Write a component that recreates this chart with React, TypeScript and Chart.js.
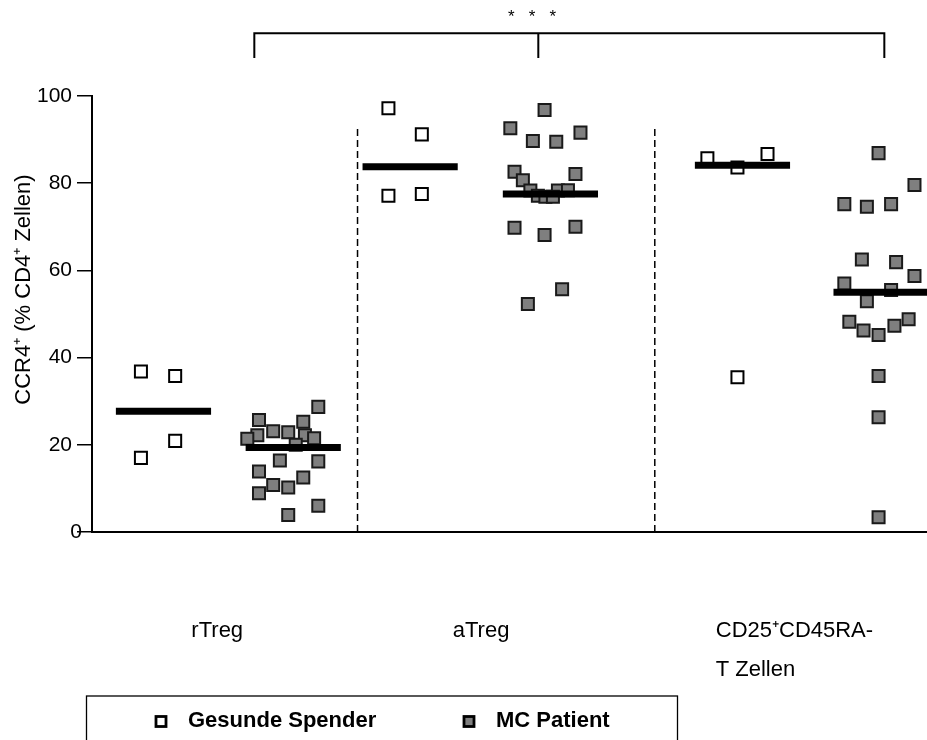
import React, { useEffect, useRef } from "react";
import { Chart, registerables } from "chart.js";

Chart.register(...registerables);

const FONT = "'Liberation Sans', Arial, Helvetica, sans-serif";

// ---- category labels (x axis) ----
const categoryLabels: (string | string[])[] = ["rTreg", "aTreg", ["CD25\u207ACD45RA-", "T Zellen"]];
const categoryLabelPos = [1.19, 4.32, 7.47];

// ---- group positions on x axis ----
const healthyCenters = [0.856, 3.81, 7.79];
const patientCenters = [2.41, 5.49, 9.45];

// ---- Gesunde Spender (healthy donors) ----
const healthyRTreg = [36.8, 35.8, 20.9, 17.0];
const healthyRTregJitter = [-0.27, 0.14, 0.14, -0.27];
const healthyATreg = [97.2, 91.2, 77.5, 77.1];
const healthyATregJitter = [-0.26, 0.14, 0.14, -0.26];
const healthyCD25 = [85.7, 86.7, 83.6, 35.5];
const healthyCD25Jitter = [-0.42, 0.3, -0.06, -0.06];

// ---- MC Patient ----
const patientRTreg = [28.7, 25.7, 25.3, 23.1, 22.9, 22.2, 22.2, 21.4, 21.5, 20.0, 16.4, 16.2, 13.9, 12.5, 10.8, 10.2, 8.9, 6.0, 3.9];
const patientRTregJitter = [0.3, -0.41, 0.12, -0.24, -0.06, 0.14, -0.43, -0.55, 0.25, 0.03, -0.16, 0.3, -0.41, 0.12, -0.24, -0.06, -0.41, 0.3, -0.06];
const patientATreg = [96.8, 92.6, 91.6, 89.7, 89.5, 82.6, 82.1, 80.7, 78.3, 78.3, 78.4, 77.1, 76.9, 76.9, 69.8, 70.0, 68.1, 55.7, 52.3];
const patientATregJitter = [-0.07, -0.48, 0.36, -0.21, 0.07, -0.43, 0.3, -0.33, -0.24, 0.09, 0.21, -0.15, -0.06, 0.03, -0.43, 0.3, -0.07, 0.14, -0.27];
const patientCD25 = [86.9, 79.6, 75.2, 74.6, 75.2, 62.5, 61.9, 58.7, 57.0, 55.5, 52.9, 48.2, 46.2, 45.2, 47.3, 48.8, 35.8, 26.3, 3.4];
const patientCD25Jitter = [-0.03, 0.4, -0.44, -0.17, 0.12, -0.23, 0.18, 0.4, -0.44, 0.12, -0.17, -0.38, -0.21, -0.03, 0.16, 0.33, -0.03, -0.03, -0.03];

// ---- group means (horizontal bars) ----
const healthyMeans = [27.7, 83.8, 84.1];
const patientMeans = [19.4, 77.5, 55.0];
const meanHalfWidth = 0.57;

// ---- separators ----
const separatorX = [3.18, 6.74];
const separatorTop = 92.7;

// ---- significance bracket ----
const bracketX = [1.944, 5.345, 9.489];
const bracketTop = 114.4;
const bracketTickEnd = 108.7;
const significanceLabel = "*   *   *";
const significanceX = 5.27;
const significanceY = 118.0;

// ---- y axis ----
const yMin = 0;
const yMax = 100;
const yStep = 20;
const yTitle = "        CCR4\u207A (% CD4\u207A Zellen)";

// ---- legend ----
const legendNames = ["Gesunde Spender", "MC Patient"];
const legendFills = ["#ffffff", "#7f7f7f"];

function pts(values: number[], jitter: number[], center: number) {
  return values.map((v, i) => ({ x: center + jitter[i], y: v }));
}

const legendPlugin = {
  id: "boxLegend",
  afterDraw(chart: any) {
    const ctx = chart.ctx as CanvasRenderingContext2D;
    const xs = chart.scales.x;
    const ys = chart.scales.y;
    ctx.save();
    // zero label sits over the tick, as in the original
    ctx.fillStyle = "#000";
    ctx.font = `21px ${FONT}`;
    ctx.textAlign = "right";
    ctx.textBaseline = "middle";
    ctx.fillText(String(yMin), xs.left - 10, ys.getPixelForValue(yMin));

    // significance stars
    ctx.font = `17px ${FONT}`;
    ctx.textAlign = "center";
    ctx.fillText(significanceLabel, xs.getPixelForValue(significanceX), ys.getPixelForValue(significanceY));

    // legend box
    ctx.strokeStyle = "#000";
    ctx.lineWidth = 1.3;
    ctx.strokeRect(86.5, 696, 591, 60);
    const itemX = [156, 464];
    ctx.font = `bold 22px ${FONT}`;
    ctx.textAlign = "left";
    ctx.textBaseline = "middle";
    legendNames.forEach((name, i) => {
      ctx.fillStyle = legendFills[i];
      ctx.fillRect(itemX[i], 716.5, 10, 10);
      ctx.lineWidth = 2.8;
      ctx.strokeStyle = "#000";
      ctx.strokeRect(itemX[i], 716.5, 10, 10);
      ctx.fillStyle = "#000";
      ctx.fillText(name, itemX[i] + 32, 721);
    });
    ctx.restore();
  },
};

export default function App() {
  const ref = useRef<HTMLCanvasElement | null>(null);

  useEffect(() => {
    if (!ref.current) return;
    const lineBase = {
      showLine: true,
      pointRadius: 0,
      borderColor: "#000",
      clip: false as any,
    };
    const meanSets: any[] = [];
    const addMean = (center: number, m: number) =>
      meanSets.push({
        ...lineBase,
        label: "mean",
        data: [
          { x: center - meanHalfWidth, y: m },
          { x: center + meanHalfWidth, y: m },
        ],
        borderWidth: 7,
        borderCapStyle: "butt",
        order: 0,
      });
    healthyMeans.forEach((m, i) => addMean(healthyCenters[i], m));
    patientMeans.forEach((m, i) => addMean(patientCenters[i], m));

    const sepSets = separatorX.map((x) => ({
      ...lineBase,
      label: "sep",
      data: [
        { x, y: yMin },
        { x, y: separatorTop },
      ],
      borderWidth: 1.5,
      borderDash: [7, 4],
      order: 5,
    }));
    const bracketSets = [
      {
        ...lineBase,
        label: "bracket",
        data: [
          { x: bracketX[0], y: bracketTickEnd },
          { x: bracketX[0], y: bracketTop },
          { x: bracketX[2], y: bracketTop },
          { x: bracketX[2], y: bracketTickEnd },
        ],
        borderWidth: 2,
        borderJoinStyle: "miter",
        order: 5,
      },
      {
        ...lineBase,
        label: "bracket",
        data: [
          { x: bracketX[1], y: bracketTop },
          { x: bracketX[1], y: bracketTickEnd },
        ],
        borderWidth: 2,
        order: 5,
      },
    ];

    const healthyData = [
      ...pts(healthyRTreg, healthyRTregJitter, healthyCenters[0]),
      ...pts(healthyATreg, healthyATregJitter, healthyCenters[1]),
      ...pts(healthyCD25, healthyCD25Jitter, healthyCenters[2]),
    ];
    const patientData = [
      ...pts(patientRTreg, patientRTregJitter, patientCenters[0]),
      ...pts(patientATreg, patientATregJitter, patientCenters[1]),
      ...pts(patientCD25, patientCD25Jitter, patientCenters[2]),
    ];

    const chart = new Chart(ref.current, {
      type: "scatter",
      data: {
        datasets: [
          ...meanSets,
          {
            label: legendNames[0],
            data: healthyData,
            pointStyle: "rect",
            pointRadius: 8.5,
            backgroundColor: legendFills[0],
            borderColor: "#000",
            borderWidth: 2,
            clip: false as any,
            order: 2,
          },
          {
            label: legendNames[1],
            data: patientData,
            pointStyle: "rect",
            pointRadius: 8.5,
            backgroundColor: legendFills[1],
            borderColor: "#1a1a1a",
            borderWidth: 2,
            clip: false as any,
            order: 1,
          },
          ...sepSets,
          ...bracketSets,
        ],
      },
      options: {
        responsive: false,
        animation: false,
        events: [],
        layout: { autoPadding: false, padding: { top: 96, left: 0, right: 0, bottom: 0 } },
        plugins: { legend: { display: false }, tooltip: { enabled: false } },
        scales: {
          x: {
            type: "linear",
            position: "bottom",
            min: 0,
            max: 10,
            grid: { display: false, drawTicks: false },
            border: { display: true, color: "#000", width: 2 },
            afterBuildTicks: (scale: any) => {
              scale.ticks = categoryLabelPos.map((v) => ({ value: v }));
            },
            afterFit: (scale: any) => {
              scale.height = 208;
              scale.paddingLeft = 0;
              scale.paddingRight = 0;
            },
            ticks: {
              autoSkip: false,
              maxRotation: 0,
              minRotation: 0,
              align: "start",
              padding: 80,
              color: "#000",
              font: { family: FONT, size: 22, lineHeight: 1.75 },
              callback: (_v: any, i: number) => categoryLabels[i],
            },
          },
          y: {
            type: "linear",
            min: yMin,
            max: yMax,
            grid: {
              display: true,
              drawOnChartArea: false,
              drawTicks: true,
              tickLength: 15,
              color: "#000",
              lineWidth: 1.5,
            },
            border: { display: true, color: "#000", width: 2 },
            afterFit: (scale: any) => {
              scale.width = 92;
            },
            ticks: {
              stepSize: yStep,
              padding: 5,
              color: "#000",
              font: { family: FONT, size: 21 },
              callback: (v: any) => (v === yMin ? "" : String(v)),
            },
            title: {
              display: true,
              text: yTitle,
              color: "#000",
              font: { family: FONT, size: 22 },
              padding: { top: 11, bottom: 0 },
            },
          },
        },
      },
      plugins: [legendPlugin],
    } as any);
    return () => chart.destroy();
  }, []);

  return (
    <div style={{ position: "absolute", left: 0, top: 0, width: 927, height: 740, background: "#fff" }}>
      <canvas ref={ref} width={927} height={740} style={{ width: 927, height: 740, display: "block" }} />
    </div>
  );
}
